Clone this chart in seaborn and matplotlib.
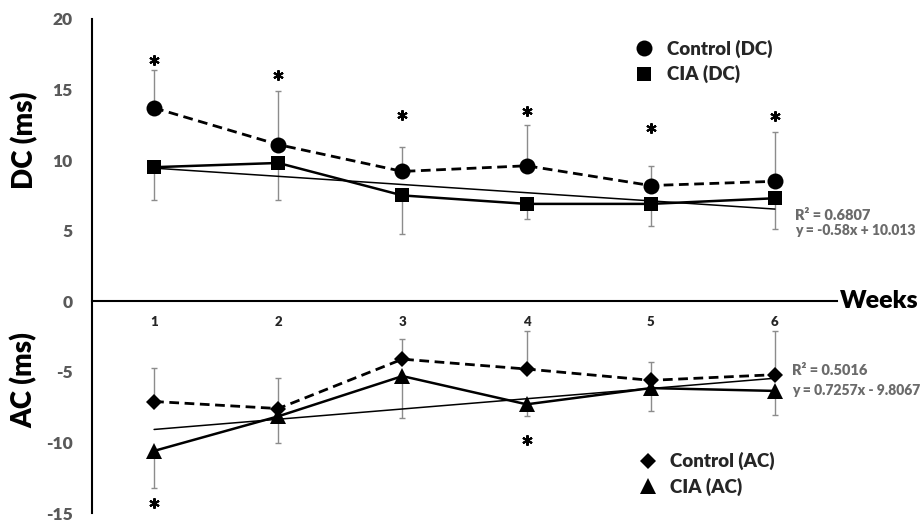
import numpy as np
import pandas as pd
import matplotlib
matplotlib.use("Agg")
import matplotlib.pyplot as plt
import matplotlib.transforms as mtransforms
from matplotlib.lines import Line2D
import seaborn as sns

# ---------------- data ----------------
weeks = [1, 2, 3, 4, 5, 6]
week_labels = ["1", "2", "3", "4", "5", "6"]

control_dc = [13.7, 11.1, 9.2, 9.6, 8.2, 8.5]
control_dc_err = [2.7, 3.8, 1.7, 2.9, 1.4, 3.5]      # upward
cia_dc = [9.5, 9.8, 7.5, 6.9, 6.9, 7.3]
cia_dc_err = [2.35, 2.6, 2.75, 1.1, 1.6, 2.2]        # downward

control_ac = [-7.1, -7.6, -4.1, -4.8, -5.6, -5.2]
control_ac_err = [2.4, 2.2, 1.4, 2.7, 1.3, 3.1]      # upward
cia_ac = [-10.6, -8.15, -5.3, -7.3, -6.15, -6.35]
cia_ac_err = [2.6, 1.9, 3.0, 0.85, 1.65, 1.7]        # downward

dc_slope, dc_intercept = -0.58, 10.013
dc_r2_text = "R² = 0.6807"
dc_eq_text = "y = -0.58x + 10.013"
ac_slope, ac_intercept = 0.7257, -9.8067
ac_r2_text = "R² = 0.5016"
ac_eq_text = "y = 0.7257x - 9.8067"

dc_star_weeks = [1, 2, 3, 4, 5, 6]
dc_star_y = [17.1, 16.0, 13.2, 13.5, 12.25, 13.1]
ac_star_weeks = [1, 4]
ac_star_y = [-14.3, -9.85]

y_ticks = [-15, -10, -5, 0, 5, 10, 15, 20]
y_tick_labels = ["-15", "-10", "-5", "0", "5", "10", "15", "20"]

legend_top = ["Control (DC)", "CIA (DC)"]
legend_bottom = ["Control (AC)", "CIA (AC)"]

# ---------------- style ----------------
sns.set_style("white")
plt.rcParams["font.family"] = ["Lato", "DejaVu Sans"]
plt.rcParams["font.weight"] = "heavy"

fig = plt.figure(figsize=(9.21, 5.23), dpi=100)
ax = fig.add_axes([0.0999, 0.0191, 0.8089, 0.9446])

zeros = np.zeros(len(weeks))
err_kw = dict(fmt="none", ecolor="#8c8c8c", elinewidth=1.0, capsize=2.5,
              capthick=1.0, zorder=1)
ax.errorbar(weeks, control_dc, yerr=[zeros, control_dc_err], **err_kw)
ax.errorbar(weeks, cia_dc, yerr=[cia_dc_err, zeros], **err_kw)
ax.errorbar(weeks, control_ac, yerr=[zeros, control_ac_err], **err_kw)
ax.errorbar(weeks, cia_ac, yerr=[cia_ac_err, zeros], **err_kw)

dc_trend = dc_slope * np.array(weeks) + dc_intercept
ac_trend = ac_slope * np.array(weeks) + ac_intercept
sns.lineplot(x=weeks, y=dc_trend, ax=ax, color="black", lw=1.1, zorder=2)
sns.lineplot(x=weeks, y=ac_trend, ax=ax, color="black", lw=1.1, zorder=2)

dash = (0, (3.5, 2.0))
sns.lineplot(x=weeks, y=control_dc, ax=ax, color="black", lw=2.0, ls=dash,
             marker="o", markersize=11.5, markeredgewidth=0, zorder=3)
sns.lineplot(x=weeks, y=cia_dc, ax=ax, color="black", lw=1.8,
             marker="s", markersize=10, markeredgewidth=0, zorder=3)
sns.lineplot(x=weeks, y=control_ac, ax=ax, color="black", lw=2.0, ls=dash,
             marker="D", markersize=8.2, markeredgewidth=0, zorder=3)
sns.lineplot(x=weeks, y=cia_ac, ax=ax, color="black", lw=1.8,
             marker="^", markersize=11, markeredgewidth=0, zorder=3)

# asterisks (significance marks)
star_kw = dict(ls="none", marker=(6, 2, 0), markersize=7.5, markeredgewidth=1.5,
               color="black", zorder=3)
ax.plot(dc_star_weeks, dc_star_y, **star_kw)
ax.plot(ac_star_weeks, ac_star_y, **star_kw)

# axes
ax.set_xlim(0.5, 6.5)
ax.set_ylim(-15, 20)
ax.set_yticks(y_ticks, y_tick_labels)
ax.set_xticks(weeks, week_labels)
for s in ["top", "right"]:
    ax.spines[s].set_visible(False)
ax.spines["bottom"].set_position(("data", 0))
ax.spines["left"].set_color("black")
ax.spines["bottom"].set_color("black")
ax.spines["left"].set_linewidth(1.5)
ax.spines["bottom"].set_linewidth(1.5)
ax.tick_params(axis="y", length=0, pad=14, labelsize=12.5, labelcolor="#595959")
ax.tick_params(axis="x", length=0, pad=10.5, labelsize=9.5, labelcolor="#262626")
ax.grid(False)
ax.set_xlabel("")
ax.set_ylabel("")

blend = mtransforms.blended_transform_factory(ax.transAxes, ax.transData)
ax.text(1.004, 0, "Weeks", transform=blend, ha="left", va="center",
        fontsize=18, color="black")
ax.text(-0.091, 11.4, "DC (ms)", transform=blend, ha="center", va="center",
        rotation=90, fontsize=20, color="black")
ax.text(-0.091, -5.6, "AC (ms)", transform=blend, ha="center", va="center",
        rotation=90, fontsize=20, color="black")

# trendline labels
gray = "#6b6b6b"
ax.text(6.16, 6.1, dc_r2_text, ha="left", va="center", fontsize=10.5, color=gray)
ax.text(6.16, 5.0, dc_eq_text, ha="left", va="center", fontsize=10, color=gray)
ax.text(6.14, -4.9, ac_r2_text, ha="left", va="center", fontsize=10.5, color=gray)
ax.text(6.14, -6.3, ac_eq_text, ha="left", va="center", fontsize=10, color=gray)

# legends
h_top = [Line2D([], [], color="black", ls="none", marker="o", markersize=11.5, markeredgewidth=0),
         Line2D([], [], color="black", ls="none", marker="s", markersize=10, markeredgewidth=0)]
h_bot = [Line2D([], [], color="black", ls="none", marker="D", markersize=8.2, markeredgewidth=0),
         Line2D([], [], color="black", ls="none", marker="^", markersize=11, markeredgewidth=0)]
leg_kw = dict(frameon=False, fontsize=13.5, handlelength=1.2, handletextpad=0.6,
              borderpad=0, borderaxespad=0, labelspacing=0.4, loc="center left")
leg1 = ax.legend(h_top, legend_top, bbox_to_anchor=(0.726, 0.914), **leg_kw)
ax.add_artist(leg1)
ax.legend(h_bot, legend_bottom, bbox_to_anchor=(0.731, 0.079), **leg_kw)

fig.savefig("out.png", dpi=100)
